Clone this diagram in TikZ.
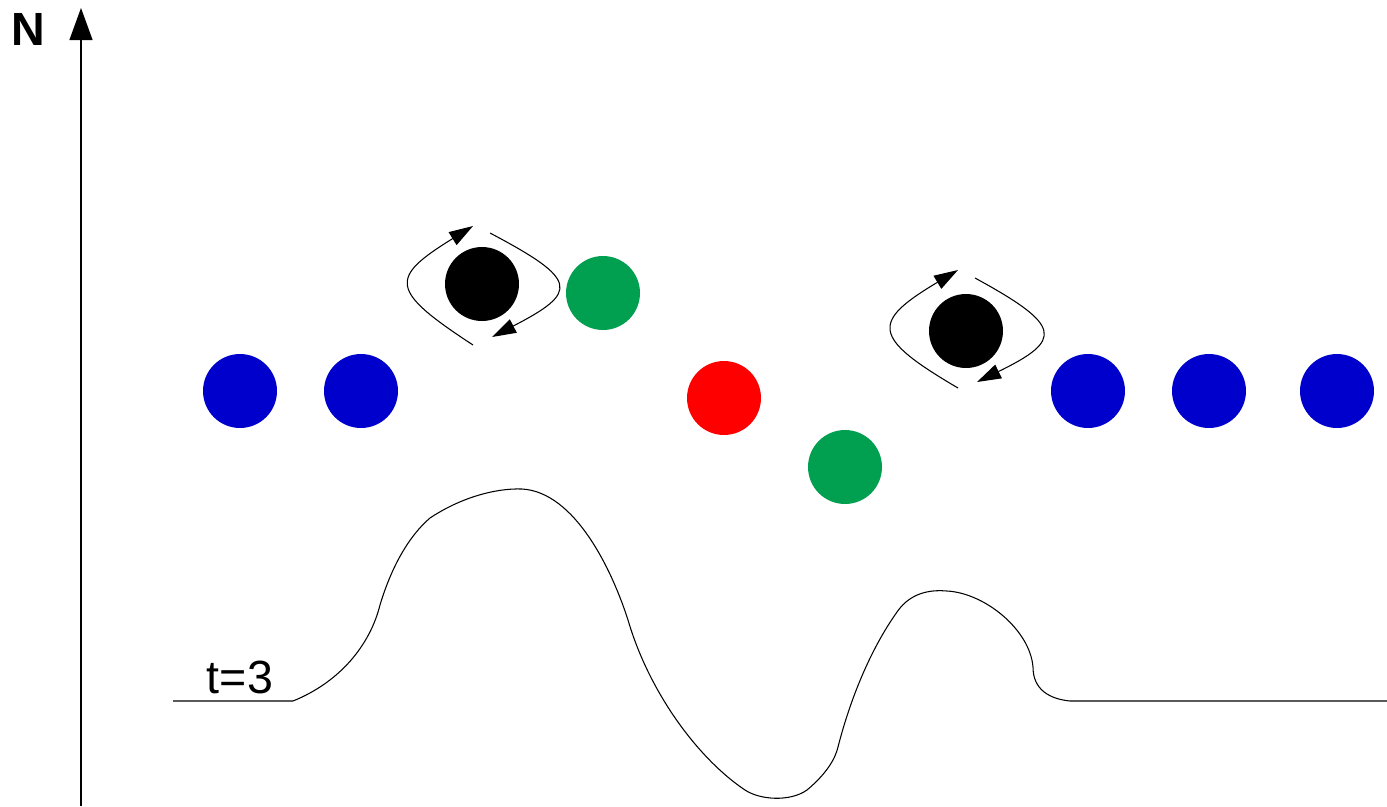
\documentclass[tikz,border=0pt]{standalone}
\usepackage{fontspec}
\setmainfont{Liberation Sans}
\usetikzlibrary{arrows.meta}
\definecolor{dotblue}{RGB}{0,0,204}
\definecolor{dotred}{RGB}{255,0,0}
\definecolor{dotgreen}{RGB}{0,160,80}
\tikzset{
  dot/.style={circle, inner sep=0pt, minimum size=1.48cm, draw=none},
  spin/.style={line width=0.6pt, -{Triangle[length=0.48cm,width=0.3cm]}},
  curve/.style={line width=0.6pt, black},
  base/.style={line width=1pt, black!65},
  lbl/.style={font=\fontsize{26.5}{31}\selectfont, inner sep=0pt}
}
\begin{document}
\begin{tikzpicture}[x=0.02cm, y=-0.02cm]
\useasboundingbox (0,0) rectangle (1387,806);
% axis
\coordinate (ax0) at (81,806);
\coordinate (ax1) at (81,8);
\draw[line width=0.7pt, -{Triangle[length=0.64cm,width=0.46cm]}] (ax0) -- (ax1);
\node[lbl, font=\fontsize{26.5}{31}\selectfont\bfseries] (N) at (28,29) {N};
% dots
\node[dot, fill=dotblue] (b1) at (240,391) {};
\node[dot, fill=dotblue] (b2) at (361,391) {};
\node[dot, fill=black] (k1) at (482,284) {};
\node[dot, fill=dotgreen] (g1) at (603,293) {};
\node[dot, fill=dotred] (r1) at (724,398) {};
\node[dot, fill=dotgreen] (g2) at (845,467) {};
\node[dot, fill=black] (k2) at (966,331) {};
\node[dot, fill=dotblue] (b3) at (1088,391) {};
\node[dot, fill=dotblue] (b4) at (1209,391) {};
\node[dot, fill=dotblue] (b5) at (1337,391) {};
% rotation arrows
\coordinate (k1la) at (473,345); \coordinate (k1lb) at (473,226);
\coordinate (k1ra) at (490,233); \coordinate (k1rb) at (492,337);
\draw[spin] (k1la) .. controls (389,290) and (389,278) .. (k1lb);
\draw[spin] (k1ra) .. controls (579,280) and (579,292) .. (k1rb);
\coordinate (k2la) at (958,388); \coordinate (k2lb) at (958,270);
\coordinate (k2ra) at (975,278); \coordinate (k2rb) at (977,382);
\draw[spin] (k2la) .. controls (871,337) and (871,322) .. (k2lb);
\draw[spin] (k2ra) .. controls (1063,326) and (1063,340) .. (k2rb);
% profile
\coordinate (p0) at (173,701);
\coordinate (p1) at (293,701);
\coordinate (p2) at (1070,701);
\coordinate (p3) at (1387,701);
\draw[base] (p0) -- (p1);
\draw[base] (p2) -- (p3);
\draw[curve] (p1) .. controls (340,682) and (370,645) .. (380,605)
  .. controls (392,565) and (410,535) .. (430,518)
  .. controls (460,498) and (495,488) .. (522,489)
  .. controls (575,492) and (612,570) .. (628,620)
  .. controls (650,695) and (700,760) .. (745,790)
  .. controls (760,800) and (790,802) .. (807,790)
  .. controls (825,775) and (835,760) .. (838,747)
  .. controls (850,700) and (870,650) .. (897,612)
  .. controls (912,590) and (935,590) .. (947,591)
  .. controls (985,593) and (1030,630) .. (1033,667)
  .. controls (1033,690) and (1050,699) .. (p2);
\node[lbl, anchor=base] (t) at (240,693) {t=3};
\end{tikzpicture}
\end{document}
